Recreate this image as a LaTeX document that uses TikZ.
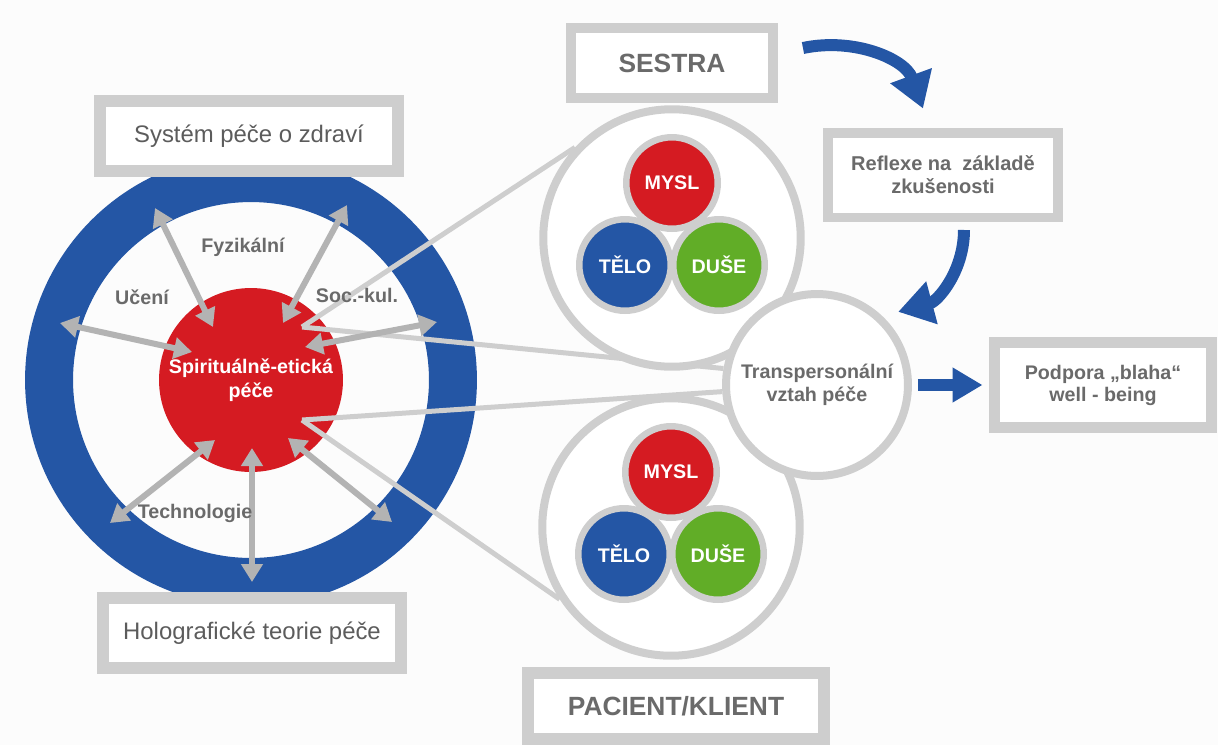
\documentclass[tikz,border=0pt]{standalone}
\usepackage{fontspec}
\setmainfont{Liberation Sans}
\usetikzlibrary{arrows.meta,positioning,calc,backgrounds}
\definecolor{hcblue}{HTML}{2456A5}
\definecolor{hcred}{HTML}{D51B22}
\definecolor{hcgreen}{HTML}{61AD27}
\definecolor{hcframe}{HTML}{CECECE}
\definecolor{hcarrow}{HTML}{B3B3B3}
\definecolor{hctext}{HTML}{6A6A6A}
\definecolor{hcdark}{HTML}{5C5C5C}
\definecolor{hcpaper}{HTML}{FCFCFC}

\begin{document}
\begin{tikzpicture}[x=0.02cm,y=-0.02cm,
  framebox/.style={draw=hcframe,fill=white,inner sep=0pt,align=center,text=hctext},
  bigcirc/.style={circle,draw=hcframe,line width=0.16cm,fill=white,inner sep=0pt},
  triad/.style={circle,draw=hcframe,line width=0.13cm,minimum size=1.83cm,inner sep=0pt,text=white,font=\fontsize{11.2}{13}\selectfont\bfseries},
  lbl/.style={text=hctext,font=\fontsize{11.2}{13}\selectfont\bfseries},
  twoway/.style={draw=hcarrow,line width=0.12cm,>={Triangle[length=0.36cm,width=0.42cm]},<->},
  tie/.style={draw=hcframe,line width=0.1cm},
  bluearrow/.style={draw=hcblue,line width=0.24cm,>={Triangle[length=0.7cm,width=0.84cm]},->}]

  \useasboundingbox (0,0) rectangle (1218,745);

  % nurse, client and their relation
  \node[bigcirc,minimum size=5.15cm] (nurse) at (672,238) {};
  \node[bigcirc,minimum size=5.15cm] (client) at (671,527) {};
  \node[bigcirc,minimum size=3.64cm,align=center,text=hctext,font=\fontsize{11.2}{13}\selectfont\bfseries] (tp) at (817,385) {Transpersonální\\vztah péče};
  \node[triad,fill=hcred] (mind1) at ($(nurse)+(0,-55)$) {MYSL};
  \node[triad,fill=hcblue] (body1) at ($(nurse)+(-47,27)$) {TĚLO};
  \node[triad,fill=hcgreen] (soul1) at ($(nurse)+(47,27)$) {DUŠE};
  \node[triad,fill=hcred] (mind2) at ($(client)+(0,-55)$) {MYSL};
  \node[triad,fill=hcblue] (body2) at ($(client)+(-47,27)$) {TĚLO};
  \node[triad,fill=hcgreen] (soul2) at ($(client)+(47,27)$) {DUŠE};

  \begin{scope}[on background layer]
    \fill[hcpaper] (0,0) rectangle (1218,745);
    \node[circle,draw=hcblue,line width=0.96cm,minimum size=8.08cm,inner sep=0pt] (ring) at (251,380) {};
    \node[circle,fill=hcred,minimum size=3.68cm,inner sep=0pt,align=center,text=white,font=\fontsize{11.2}{14}\selectfont\bfseries] (core) at (ring.center) {Spirituálně-etická\\péče};
    \coordinate (tieup) at (302,327);
    \coordinate (tiedown) at (302,420);
    \draw[tie] (tieup) -- (nurse.137);
    \draw[tie] (tieup) -- (tp.170);
    \draw[tie] (tiedown) -- (tp.184);
    \draw[tie] (tiedown) -- (client.213);
    \foreach \k/\ox/\oy/\ix/\iy in {1/155/208/213/327,2/347/205/283/323,3/60/323/192/352,4/437/322/305/347,5/110/523/215/440,6/252/582/252/448,7/392/522/288/438}{
      \coordinate (rim\k) at (\ox,\oy);
      \coordinate (hub\k) at (\ix,\iy);
      \draw[twoway] (hub\k) -- (rim\k);}
    \node[lbl] (fyz) at (243,247) {Fyzikální};
    \node[lbl] (uceni) at (142,297) {Učení};
    \node[lbl] (sockul) at (357,295) {Soc.-kul.};
    \node[lbl] (tech) at (195,513) {Technologie};
  \end{scope}

  \node[framebox,line width=0.24cm,minimum width=5.96cm,minimum height=1.4cm,text=hcdark,font=\fontsize{13.6}{16}\selectfont] (healthsys) at (249,136) {Systém péče o zdraví};
  \node[framebox,line width=0.24cm,minimum width=5.96cm,minimum height=1.4cm,text=hcdark,font=\fontsize{13.6}{16}\selectfont] (holo) at (252,633) {Holografické teorie péče};
  \node[framebox,line width=0.2cm,minimum width=4.04cm,minimum height=1.4cm,font=\fontsize{15}{18}\selectfont\bfseries] (sestra) at (672,63) {SESTRA};
  \node[framebox,line width=0.24cm,minimum width=5.92cm,minimum height=1.32cm,font=\fontsize{15}{18}\selectfont\bfseries] (pacient) at (676,706) {PACIENT/KLIENT};
  \node[framebox,line width=0.2cm,minimum width=4.6cm,minimum height=1.7cm,font=\fontsize{11.4}{13.2}\selectfont\bfseries] (reflexe) at (943,175) {Reflexe na~ základě\\zkušenosti};
  \node[framebox,line width=0.22cm,minimum width=4.36cm,minimum height=1.7cm,font=\fontsize{11.2}{12.5}\selectfont\bfseries] (podpora) at (1103,385) {Podpora „blaha“\\well - being};

  \draw[bluearrow] ([xshift=0.5cm,yshift=0.3cm]sestra.east) to[out=12,in=110] ([xshift=-0.4cm,yshift=0.38cm]reflexe.north);
  \draw[bluearrow] ([xshift=0.42cm,yshift=-0.15cm]reflexe.south) to[out=-90,in=15] ([xshift=0.28cm,yshift=0.12cm]tp.45);
  \draw[bluearrow,>={Triangle[length=0.6cm,width=0.66cm]}] ([xshift=0.12cm]tp.east) -- ([xshift=-0.12cm]podpora.west);
\end{tikzpicture}
\end{document}
